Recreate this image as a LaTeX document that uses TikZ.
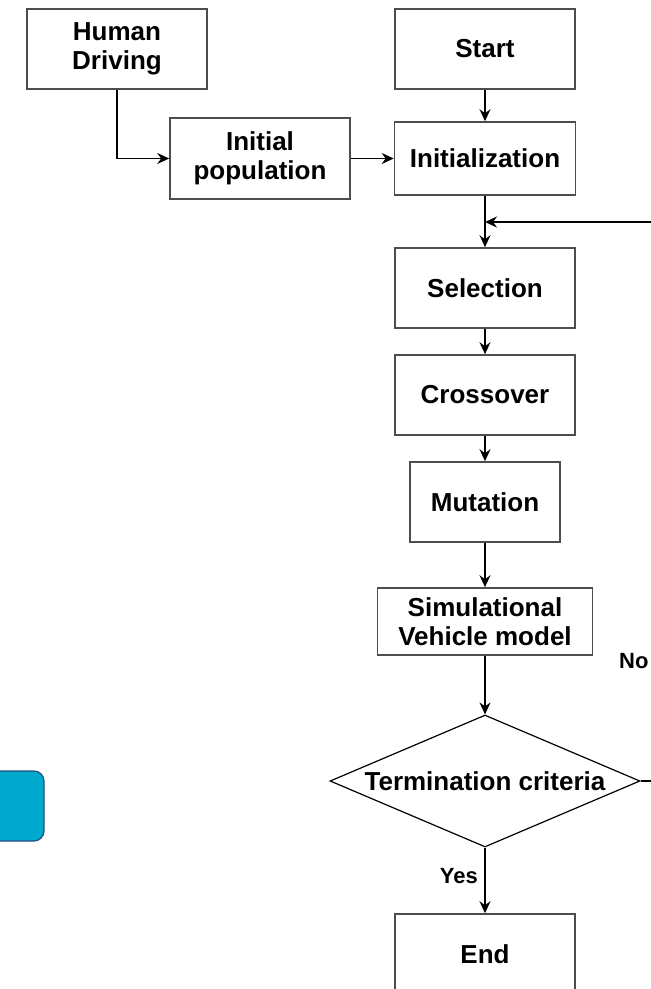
\documentclass[tikz,border=0pt]{standalone}
\usepackage{fontspec}
\setmainfont{Liberation Sans}
\usetikzlibrary{arrows.meta,shapes.geometric}
\definecolor{boxline}{HTML}{4D4D4D}
\definecolor{bluefill}{HTML}{00A9CE}
\definecolor{blueline}{HTML}{23507F}
\begin{document}
\begin{tikzpicture}[x=1pt,y=-1pt,
  box/.style={draw=boxline,line width=1.6pt,fill=white,inner sep=0pt,align=center,
              font=\fontsize{26}{29}\selectfont\bfseries},
  arr/.style={draw=black,line width=1.5pt,-{Stealth[length=12pt,width=11pt,inset=4pt]}},
  lbl/.style={font=\fontsize{22}{24}\selectfont\bfseries,inner sep=0pt}]
\useasboundingbox (0,0) rectangle (651,989);
\clip (0,0) rectangle (651,989);
\fill[white] (0,0) rectangle (651,989);

\node[box,minimum width=180,minimum height=80] (hd) at (117,49) {Human\\Driving};
\node[box,minimum width=180,minimum height=80] (start) at (485,49) {Start};
\node[box,minimum width=180,minimum height=81] (ip) at (260,158.5) {Initial\\population};
\node[box,minimum width=181,minimum height=73] (init) at (485,158.5) {Initialization};
\node[box,minimum width=180,minimum height=80] (sel) at (485,288) {Selection};
\node[box,minimum width=180,minimum height=80] (cross) at (485,395) {Crossover};
\node[box,minimum width=150,minimum height=80] (mut) at (485,502) {Mutation};
\node[box,minimum width=215,minimum height=67] (sim) at (485,621.5) {Simulational\\Vehicle model};
\node[box,draw=black,line width=1.2pt,diamond,aspect=2.35,minimum width=310,minimum height=132] (term) at (485,781) {Termination criteria};
\node[box,minimum width=180,minimum height=80] (end) at (485,954) {End};

\draw[fill=bluefill,draw=blueline,line width=1.2pt,rounded corners=10pt] (-20,771) rectangle (44,841);

\node[lbl,anchor=east] (yes) at (478,876) {Yes};
\node[lbl,anchor=west] (no) at (619,661) {No};

\coordinate (fbR) at (675,781);
\coordinate (fbJ) at (485,222);

\draw[arr] (hd.south) |- (ip.west);
\draw[arr] (ip.east) -- (init.west);
\draw[arr] (start.south) -- (init.north);
\draw[arr] (init.south) -- (sel.north);
\draw[arr] (term.east) -- (fbR) |- (fbJ);
\draw[arr] (sel.south) -- (cross.north);
\draw[arr] (cross.south) -- (mut.north);
\draw[arr] (mut.south) -- (sim.north);
\draw[arr] (sim.south) -- (term.north);
\draw[arr] (term.south) -- (end.north);
\end{tikzpicture}
\end{document}
